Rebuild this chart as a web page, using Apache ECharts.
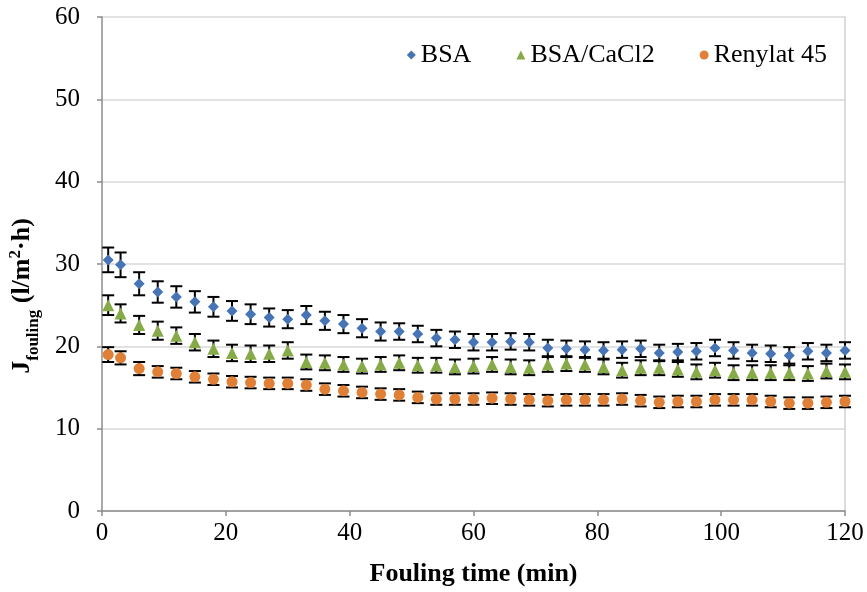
<!DOCTYPE html>
<html>
<head>
<meta charset="utf-8">
<script src="https://cdn.jsdelivr.net/npm/echarts@6/dist/echarts.min.js"></script>
<style>
  html, body { margin: 0; padding: 0; background: #fff; }
  #chart { width: 867px; height: 592px; }
</style>
</head>
<body>
<div id="chart"></div>
<script>
// Fouling time (min)
const times = [1, 3, 6, 9, 12, 15, 18, 21, 24, 27, 30, 33, 36, 39, 42, 45, 48, 51, 54, 57,
  60, 63, 66, 69, 72, 75, 78, 81, 84, 87, 90, 93, 96, 99, 102, 105, 108, 111, 114, 117, 120];

// Flux values (l/m2·h)
const bsa = [30.5, 29.9, 27.6, 26.6, 26.0, 25.4, 24.8, 24.3, 23.9, 23.5, 23.3, 23.8, 23.1, 22.7,
  22.2, 21.8, 21.8, 21.5, 21.0, 20.8, 20.5, 20.5, 20.6, 20.5, 19.8, 19.7, 19.6, 19.5, 19.6,
  19.7, 19.2, 19.3, 19.4, 19.8, 19.5, 19.2, 19.1, 18.9, 19.4, 19.2, 19.5];
const bsaCa = [25.0, 24.0, 22.6, 21.9, 21.3, 20.5, 19.7, 19.2, 19.1, 19.1, 19.5, 18.1, 18.0,
  17.8, 17.6, 17.8, 18.0, 17.7, 17.7, 17.5, 17.6, 17.8, 17.5, 17.4, 17.8, 17.9, 17.8, 17.5,
  17.1, 17.4, 17.4, 17.2, 16.9, 17.1, 16.8, 16.8, 16.8, 16.8, 16.7, 17.0, 16.9];
const renylat = [19.0, 18.6, 17.3, 16.9, 16.7, 16.3, 16.0, 15.7, 15.6, 15.5, 15.5, 15.3, 14.8,
  14.6, 14.4, 14.2, 14.1, 13.8, 13.6, 13.6, 13.6, 13.7, 13.6, 13.5, 13.4, 13.5, 13.5, 13.5,
  13.6, 13.4, 13.2, 13.3, 13.3, 13.5, 13.5, 13.5, 13.3, 13.1, 13.1, 13.2, 13.3];

// Standard deviations
const bsaErr = [1.5, 1.5, 1.4, 1.3, 1.3, 1.3, 1.2, 1.2, 1.2, 1.1, 1.1, 1.1, 1.1, 1.1, 1.1,
  1.1, 1.0, 1.0, 1.0, 1.0, 1.0, 1.0, 1.0, 1.0, 1.0, 1.0, 1.0, 1.0, 1.0, 1.0, 1.0, 1.0, 1.0,
  1.0, 1.0, 1.0, 1.0, 1.0, 1.0, 1.0, 1.0];
const bsaCaErr = [1.2, 1.1, 1.1, 1.1, 1.0, 1.0, 1.0, 1.0, 1.0, 1.0, 1.0, 0.9, 0.9, 0.9, 0.9,
  0.9, 0.9, 0.9, 0.9, 0.9, 0.9, 0.9, 0.9, 0.9, 0.9, 0.9, 0.9, 0.9, 0.9, 0.9, 0.9, 0.9, 0.9,
  0.9, 0.9, 0.9, 0.9, 0.9, 0.9, 0.9, 0.9];
const renylatErr = [0.9, 0.8, 0.8, 0.7, 0.7, 0.7, 0.7, 0.7, 0.7, 0.7, 0.7, 0.7, 0.7, 0.7,
  0.7, 0.7, 0.7, 0.7, 0.7, 0.7, 0.7, 0.7, 0.7, 0.7, 0.7, 0.7, 0.7, 0.7, 0.7, 0.7, 0.7, 0.7,
  0.7, 0.7, 0.7, 0.7, 0.7, 0.7, 0.7, 0.7, 0.7];

const seriesNames = ['BSA', 'BSA/CaCl2', 'Renylat 45'];
const xTicks = { min: 0, max: 120, interval: 20 };
const yTicks = { min: 0, max: 60, interval: 10 };

const colors = ['#4674B4', '#86AA48', '#E07F36'];
const serif = '"Liberation Serif", "Times New Roman", serif';

function pairs(ys) { return times.map((t, i) => [t, ys[i]]); }
function errData(ys, es) { return times.map((t, i) => [t, ys[i] - es[i], ys[i] + es[i]]); }

// vertical whisker with caps at both ends
function errorBar(params, api) {
  const x = api.value(0);
  const lo = api.coord([x, api.value(1)]);
  const hi = api.coord([x, api.value(2)]);
  const half = 6;
  const style = { stroke: '#000', lineWidth: 2 };
  return {
    type: 'group',
    children: [
      { type: 'line', shape: { x1: lo[0], y1: lo[1], x2: hi[0], y2: hi[1] }, style },
      { type: 'line', shape: { x1: lo[0] - half, y1: lo[1], x2: lo[0] + half, y2: lo[1] }, style },
      { type: 'line', shape: { x1: hi[0] - half, y1: hi[1], x2: hi[0] + half, y2: hi[1] }, style }
    ]
  };
}

const values = [bsa, bsaCa, renylat];
const errs = [bsaErr, bsaCaErr, renylatErr];
const symbols = ['diamond', 'triangle', 'circle'];
const sizes = [11, 12, 11];

const series = [];
values.forEach((v, i) => {
  series.push({
    type: 'custom',
    name: seriesNames[i] + ' err',
    renderItem: errorBar,
    data: errData(v, errs[i]),
    encode: { x: 0, y: [1, 2] },
    z: 1,
    silent: true
  });
});
values.forEach((v, i) => {
  series.push({
    type: 'scatter',
    name: seriesNames[i],
    data: pairs(v),
    symbol: symbols[i],
    symbolSize: sizes[i],
    itemStyle: { color: colors[i], opacity: 1 },
    z: 3
  });
});

const chart = echarts.init(document.getElementById('chart'));
chart.setOption({
  animation: false,
  backgroundColor: '#fff',
  grid: { left: 102, right: 22, top: 17, bottom: 80 },
  legend: {
    data: seriesNames.map((n, i) => ({ name: n, icon: symbols[i] })),
    top: 37,
    right: 35,
    itemWidth: 9,
    itemHeight: 9,
    itemGap: 45,
    textStyle: { fontFamily: serif, fontSize: 26, color: '#000' }
  },
  xAxis: {
    type: 'value',
    min: xTicks.min, max: xTicks.max, interval: xTicks.interval,
    name: 'Fouling time (min)',
    nameLocation: 'middle',
    nameGap: 50,
    nameTextStyle: { fontFamily: serif, fontSize: 26, fontWeight: 'bold', color: '#000' },
    axisLine: { show: true, onZero: false, lineStyle: { color: '#8c8c8c', width: 1.5 } },
    axisTick: { show: true, length: 5, lineStyle: { color: '#8c8c8c', width: 1.5 } },
    axisLabel: { fontFamily: serif, fontSize: 25, color: '#000', margin: 10 },
    splitLine: { show: false }
  },
  yAxis: [{
    type: 'value',
    min: yTicks.min, max: yTicks.max, interval: yTicks.interval,
    axisLine: { show: true, lineStyle: { color: '#8c8c8c', width: 1.5 } },
    axisTick: { show: true, length: 5, lineStyle: { color: '#8c8c8c', width: 1.5 } },
    axisLabel: { fontFamily: serif, fontSize: 25, color: '#000', margin: 22 },
    splitLine: { show: true, lineStyle: { color: '#d9d9d9', width: 1.5 } }
  }, {
    type: 'value',
    position: 'right',
    min: yTicks.min, max: yTicks.max, interval: yTicks.interval,
    axisLine: { show: true, lineStyle: { color: '#d0d0d0', width: 1.5 } },
    axisTick: { show: false },
    axisLabel: { show: false },
    splitLine: { show: false }
  }],
  graphic: [{
    type: 'text',
    x: 22,
    y: 296,
    rotation: Math.PI / 2,
    style: {
      text: '{b|J}{s|fouling}{b| (l/m}{p|2}{b|·h)}',
      align: 'center',
      verticalAlign: 'middle',
      fill: '#000',
      rich: {
        b: { fontFamily: serif, fontSize: 26, fontWeight: 'bold', lineHeight: 30, verticalAlign: 'middle' },
        s: { fontFamily: serif, fontSize: 17, fontWeight: 'bold', lineHeight: 17, verticalAlign: 'bottom', padding: [0, 0, -5, 0] },
        p: { fontFamily: serif, fontSize: 17, fontWeight: 'bold', lineHeight: 17, verticalAlign: 'top' }
      }
    }
  }],
  series
});
</script>
</body>
</html>
